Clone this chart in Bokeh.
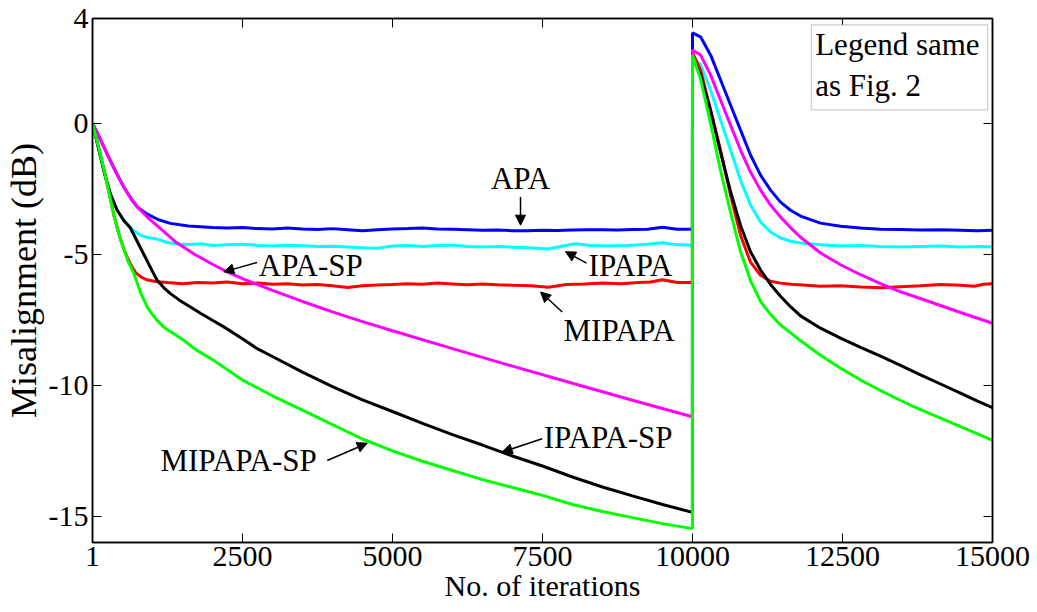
from bokeh.plotting import figure
from bokeh.models import Range1d, FixedTicker, LinearAxis, Label, Arrow, NormalHead, BoxAnnotation
from bokeh.embed import file_html
from bokeh.resources import INLINE

FONT = "Liberation Serif"

# ---------------- data ----------------
apa_it = [1, 100, 250, 400, 520, 650, 750, 900, 1100, 1300, 1600, 2000, 2250, 2500, 2750, 3000, 3250, 3500,
          3750, 4000, 4250, 4500, 4750, 5000, 5250, 5500, 5750, 6000, 6250, 6500, 6750, 7000, 7250, 7500,
          7750, 8000, 8250, 8500, 8750, 9000, 9250, 9500, 9750, 9999,
          10000, 10134, 10301, 10467, 10634, 10801, 10967, 11134, 11301, 11467, 11634, 11801, 12134, 12467,
          12801, 13134, 13467, 13800, 14134, 14467, 14750, 15000]
apa_db = [0, -0.45, -1.2, -1.9, -2.42, -2.9, -3.2, -3.45, -3.68, -3.82, -3.92, -3.98, -4.0, -3.98, -4.02, -4.03,
          -4.0, -4.03, -4.05, -4.02, -4.06, -4.1, -4.06, -4.03, -4.02, -4.0, -4.03, -4.04, -4.06, -4.08, -4.07,
          -4.1, -4.1, -4.08, -4.09, -4.07, -4.06, -4.06, -4.07, -4.05, -4.04, -3.97, -4.04, -4.04,
          3.45, 3.3, 2.61, 1.66, 0.7, -0.26, -1.21, -1.98, -2.55, -3.01, -3.32, -3.54, -3.81, -3.93,
          -4.0, -4.04, -4.05, -4.07, -4.06, -4.08, -4.1, -4.08]

ipapa_it = [1, 100, 200, 300, 411, 520, 633, 700, 800, 900, 1078, 1250, 1411, 1600, 1800, 2000, 2250, 2500,
            2750, 3000, 3250, 3500, 3750, 4000, 4250, 4500, 4750, 5000, 5250, 5500, 5750, 6000, 6250, 6500,
            6750, 7000, 7250, 7600, 7800, 8050, 8300, 8600, 8900, 9200, 9500, 9750, 9999,
            10000, 10134, 10301, 10467, 10634, 10801, 10967, 11134, 11301, 11467, 11634, 11801, 12134, 12467,
            12800, 13134, 13467, 13800, 14134, 14467, 14750, 15000]
ipapa_db = [0, -0.95, -1.9, -2.7, -3.31, -3.7, -3.98, -4.12, -4.27, -4.35, -4.42, -4.55, -4.61, -4.63, -4.6,
            -4.66, -4.64, -4.62, -4.66, -4.68, -4.65, -4.67, -4.7, -4.69, -4.72, -4.75, -4.77, -4.68, -4.66,
            -4.7, -4.66, -4.65, -4.7, -4.72, -4.7, -4.73, -4.75, -4.8, -4.7, -4.6, -4.66, -4.68, -4.66, -4.63,
            -4.56, -4.64, -4.65,
            2.55, 2.23, 1.27, 0.13, -1.02, -2.17, -3.12, -3.77, -4.15, -4.38, -4.5, -4.57, -4.64, -4.68,
            -4.66, -4.7, -4.72, -4.7, -4.68, -4.72, -4.7, -4.72]

mipapa_it = [1, 100, 200, 300, 356, 450, 522, 578, 650, 720, 800, 900, 1078, 1250, 1500, 1750, 2000, 2250,
             2500, 2750, 3000, 3250, 3500, 3750, 4000, 4250, 4500, 4750, 5000, 5250, 5500, 5750, 6000, 6250,
             6500, 6750, 7000, 7300, 7600, 7900, 8200, 8500, 8800, 9100, 9300, 9500, 9750, 9999,
             10000, 10134, 10301, 10467, 10634, 10801, 10967, 11134, 11301, 11467, 11634, 11900, 12134,
             12467, 12801, 13134, 13467, 13800, 14134, 14467, 14700, 14850, 15000]
mipapa_db = [0, -0.9, -1.85, -2.9, -3.5, -4.3, -4.8, -5.1, -5.45, -5.7, -5.85, -5.97, -6.05, -6.08, -6.12,
             -6.08, -6.1, -6.06, -6.12, -6.1, -6.14, -6.12, -6.17, -6.15, -6.2, -6.27, -6.2, -6.17, -6.15,
             -6.12, -6.14, -6.1, -6.13, -6.16, -6.13, -6.16, -6.18, -6.2, -6.26, -6.15, -6.13, -6.1, -6.12,
             -6.08, -6.06, -5.97, -6.08, -6.08,
             2.7, 2.04, 0.51, -1.02, -2.74, -4.27, -5.3, -5.8, -6.03, -6.1, -6.14, -6.18, -6.22,
             -6.2, -6.25, -6.28, -6.24, -6.2, -6.15, -6.18, -6.22, -6.14, -6.12]

apasp_it = [1, 100, 250, 400, 520, 650, 750, 900, 1100, 1400, 1700, 2000, 2200, 2500, 3000, 3500, 4000, 4500,
            5000, 6000, 7000, 8000, 9000, 9999,
            10000, 10134, 10301, 10467, 10634, 10801, 10967, 11134, 11301, 11467, 11634, 11801, 12134, 12467,
            12801, 13134, 13467, 13967, 14467, 15000]
apasp_db = [0, -0.45, -1.2, -1.9, -2.42, -2.9, -3.2, -3.55, -3.95, -4.55, -5.0, -5.38, -5.62, -5.93, -6.38,
            -6.8, -7.2, -7.57, -7.92, -8.6, -9.27, -9.92, -10.57, -11.2,
            2.8, 2.61, 1.85, 0.89, -0.07, -1.02, -1.86, -2.55, -3.12, -3.58, -3.98, -4.35, -4.95, -5.4,
            -5.78, -6.12, -6.43, -6.82, -7.22, -7.63]

ipapasp_it = [1, 100, 200, 300, 411, 520, 633, 700, 800, 900, 1000, 1078, 1200, 1300, 1450, 1633, 1800, 2000,
              2189, 2500, 2745, 3000, 3500, 4000, 4500, 5000, 5500, 6000, 6500, 7000, 7500, 8000, 8500, 9000,
              9500, 9999,
              10000, 10134, 10301, 10467, 10634, 10801, 10967, 11134, 11301, 11467, 11634, 11801, 12134,
              12467, 12801, 13134, 13467, 13800, 14134, 14467, 14750, 15000]
ipapasp_db = [0, -0.95, -1.9, -2.7, -3.31, -3.7, -4.0, -4.3, -4.75, -5.2, -5.65, -5.99, -6.3, -6.5, -6.75,
              -7.01, -7.25, -7.52, -7.77, -8.22, -8.6, -8.9, -9.5, -10.05, -10.56, -11.0, -11.45, -11.88,
              -12.28, -12.7, -13.08, -13.5, -13.88, -14.22, -14.55, -14.85,
              2.5, 1.85, 0.5, -1.1, -2.6, -3.9, -4.9, -5.6, -6.15, -6.6, -7.0, -7.35, -7.82,
              -8.2, -8.55, -8.89, -9.24, -9.6, -9.95, -10.3, -10.6, -10.85]

mipapasp_it = [1, 100, 200, 300, 356, 450, 522, 600, 689, 800, 911, 1000, 1078, 1200, 1356, 1500, 1745, 2000,
               2500, 3000, 3500, 4000, 4500, 5000, 5500, 6000, 6500, 7000, 7500, 8000, 8500, 9000, 9500, 9999,
               10000, 10134, 10301, 10467, 10634, 10801, 10967, 11134, 11301, 11467, 11634, 11801, 12134,
               12467, 12801, 13134, 13467, 13800, 14134, 14467, 14750, 15000]
mipapasp_db = [0, -0.9, -1.85, -2.9, -3.5, -4.3, -4.8, -5.3, -5.73, -6.45, -7.01, -7.3, -7.52, -7.8, -8.03,
               -8.25, -8.67, -9.02, -9.8, -10.4, -10.95, -11.5, -12.05, -12.5, -12.9, -13.25, -13.6, -13.9,
               -14.2, -14.55, -14.82, -15.05, -15.28, -15.47,
               2.6, 1.7, 0.0, -1.8, -3.4, -4.9, -6.0, -6.8, -7.3, -7.7, -8.0, -8.3, -8.85,
               -9.35, -9.8, -10.2, -10.58, -10.93, -11.25, -11.58, -11.85, -12.1]

x_ticks = [1, 2500, 5000, 7500, 10000, 12500, 15000]
y_ticks = [-15, -10, -5, 0, 4]
x_labels = ["1", "2500", "5000", "7500", "10000", "12500", "15000"]
y_labels = ["-15", "-10", "-5", "0", "4"]

# annotation texts and arrows (data coordinates)
ann_text = ["APA", "IPAPA", "MIPAPA", "APA-SP", "MIPAPA-SP", "IPAPA-SP"]
ann_x = [7134, 8268, 7851, 2772, 1134, 7522]
ann_y = [-2.09, -5.42, -7.9, -5.42, -12.87, -11.99]
ann_align = ["center", "left", "left", "left", "left", "left"]
arr_x0 = [7134, 8234, 7829, 2745, 3913, 7495]
arr_y0 = [-2.81, -5.34, -7.2, -5.31, -12.87, -12.04]
arr_x1 = [7134, 7884, 7468, 2189, 4580, 6828]
arr_y1 = [-3.89, -4.9, -6.44, -5.67, -12.21, -12.55]

# ---------------- figure ----------------
p = figure(width=1037, height=612, output_backend="svg", toolbar_location=None,
           x_range=Range1d(1, 15000), y_range=Range1d(-16, 4),
           min_border_left=92, min_border_right=45, min_border_top=18, min_border_bottom=70)
p.xgrid.visible = False
p.ygrid.visible = False
p.outline_line_color = "black"
p.outline_line_width = 1.5
p.background_fill_color = "white"
p.border_fill_color = "white"

series = [(apa_it, apa_db, "#0000ff"), (ipapa_it, ipapa_db, "#00ffff"), (mipapa_it, mipapa_db, "#ff0000"),
          (apasp_it, apasp_db, "#ff00ff"), (ipapasp_it, ipapasp_db, "#000000"),
          (mipapasp_it, mipapasp_db, "#00ff00")]
for xs, ys, c in series:
    p.line(xs, ys, line_color=c, line_width=3)


def style_axis(ax, show_labels):
    ax.axis_line_color = "black"
    ax.axis_line_width = 1.5
    ax.major_tick_in = 9
    ax.major_tick_out = 0
    ax.major_tick_line_color = "black"
    ax.minor_tick_in = 0
    ax.minor_tick_out = 0
    ax.minor_tick_line_color = None
    if show_labels:
        ax.major_label_text_font = FONT
        ax.major_label_text_font_size = "30px"
        ax.major_label_text_color = "black"
        ax.major_label_standoff = 4
        ax.axis_label_text_font = FONT
        ax.axis_label_text_font_size = "30px"
        ax.axis_label_text_font_style = "normal"
        ax.axis_label_text_color = "black"
    else:
        ax.major_label_text_color = None
        ax.major_label_text_font_size = "1px"
        ax.major_label_standoff = 0
        ax.axis_label = None


p.xaxis.ticker = FixedTicker(ticks=x_ticks, minor_ticks=[])
p.yaxis.ticker = FixedTicker(ticks=y_ticks, minor_ticks=[])
p.xaxis.major_label_overrides = {t: s for t, s in zip(x_ticks, x_labels)}
p.yaxis.major_label_overrides = {t: s for t, s in zip(y_ticks, y_labels)}
p.xaxis.axis_label = "No. of iterations"
p.yaxis.axis_label = "Misalignment (dB)"
style_axis(p.xaxis[0], True)
style_axis(p.yaxis[0], True)
p.xaxis.axis_label_standoff = 0
p.yaxis.axis_label_standoff = 2
p.yaxis.axis_label_text_font_size = "36px"

top = LinearAxis(ticker=FixedTicker(ticks=x_ticks, minor_ticks=[]))
right = LinearAxis(ticker=FixedTicker(ticks=y_ticks, minor_ticks=[]))
style_axis(top, False)
style_axis(right, False)
p.add_layout(top, "above")
p.add_layout(right, "right")

# annotations
for t, x, y, a in zip(ann_text, ann_x, ann_y, ann_align):
    p.add_layout(Label(x=x, y=y, text=t, text_align=a, text_baseline="alphabetic",
                       text_font=FONT, text_font_size="31px", text_color="black"))
for x0, y0, x1, y1 in zip(arr_x0, arr_y0, arr_x1, arr_y1):
    p.add_layout(Arrow(end=NormalHead(size=10, fill_color="black", line_color="black", line_width=1),
                       x_start=x0, y_start=y0, x_end=x1, y_end=y1, line_width=1.5, line_color="black"))

# "Legend same as Fig. 2" box
p.add_layout(BoxAnnotation(left=11980, right=14920, top=3.76, bottom=0.51, fill_color="white",
                           fill_alpha=1.0, line_color="#555555", line_width=1.2))
p.add_layout(Label(x=12045, y=2.99, text="Legend same", text_baseline="alphabetic",
                   text_font=FONT, text_font_size="31px", text_color="black"))
p.add_layout(Label(x=12045, y=1.46, text="as Fig. 2", text_baseline="alphabetic",
                   text_font=FONT, text_font_size="31px", text_color="black"))

open("out.html", "w").write(file_html(p, INLINE))
